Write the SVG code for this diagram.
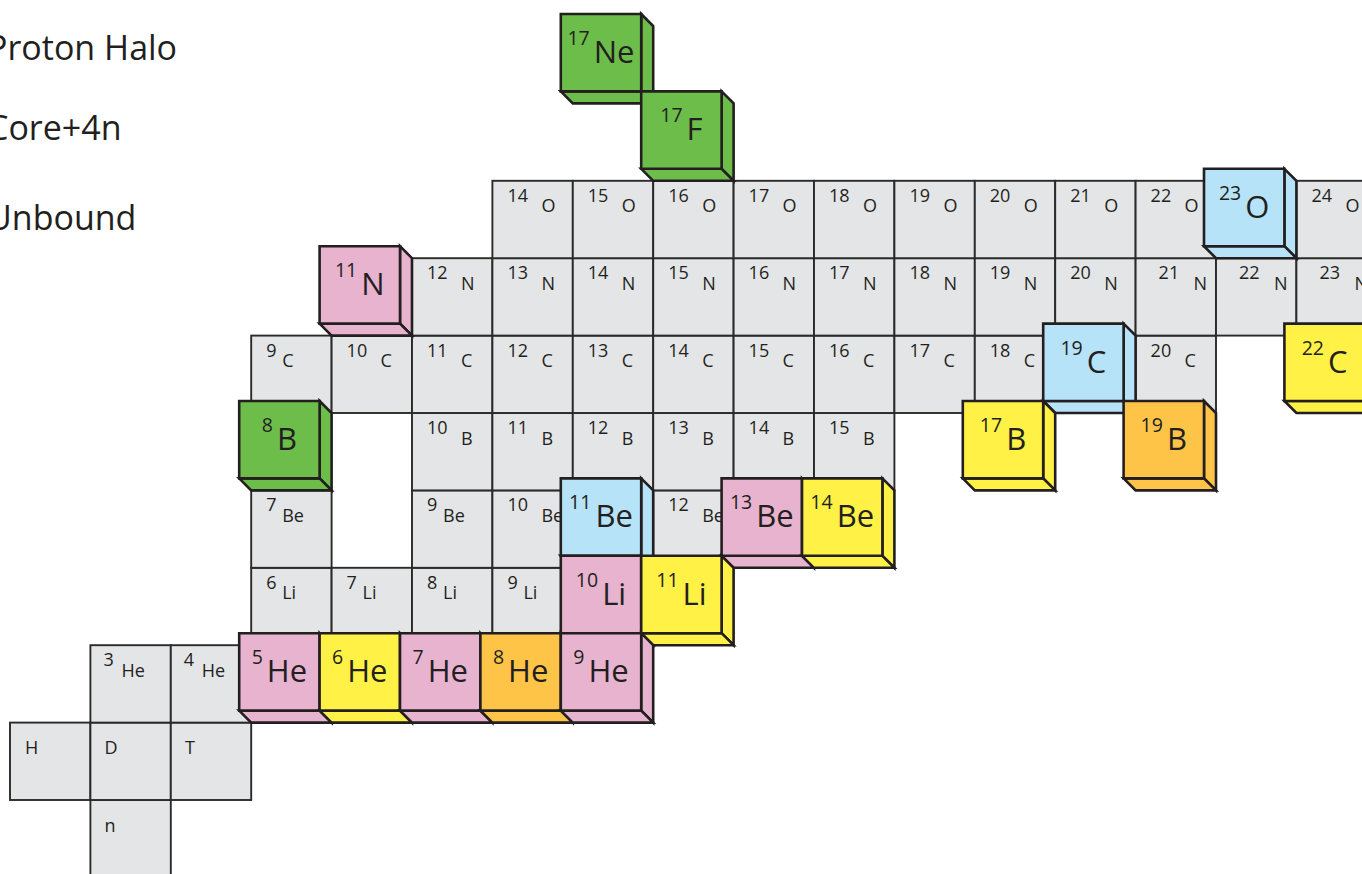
<svg xmlns="http://www.w3.org/2000/svg" xmlns:xlink="http://www.w3.org/1999/xlink" width="1362" height="874" viewBox="0 0 1362 874">
<style>
.cell{fill:#e4e5e6;stroke:#2b2a29;stroke-width:1.9}
.t{font-family:'Open Sans','Noto Sans',sans-serif;font-size:18px;fill:#231f20}
.lg{font-family:'Open Sans','Noto Sans',sans-serif;font-size:34px;fill:#231f20}
.bx{stroke:#231f20;stroke-width:2.6;stroke-linejoin:miter}
.bl{font-family:'Open Sans','Noto Sans',sans-serif;fill:#231f20;text-anchor:middle}
.ms{font-size:19.5px}
.sy{font-size:31px}
.pink{fill:#e7b3cf}
.yellow{fill:#fff145}
.orange{fill:#fec447}
.blue{fill:#b6e3f8}
.green{fill:#6cbd4a}
</style>
<defs>
<rect id="c" class="cell" width="80.4" height="77.4"/>
<g id="box">
<path d="M80.4 0 L92.4 12 V89.4 L80.4 77.4 Z"/>
<path d="M0 77.4 H80.4 L92.4 89.4 H12 Z"/>
<path d="M0 0 H80.4 V77.4 H0 Z"/>
</g>
</defs>
<rect width="1362" height="874" fill="#ffffff"/>
<g id="legend">
<text class="lg" x="-13" y="60">Proton Halo</text>
<text class="lg" x="-13" y="140">Core+4n</text>
<text class="lg" x="-13" y="230">Unbound</text>
</g>
<g id="grid">
<g id="n"><use href="#c" x="90.4" y="800"/><text class="t" x="104.4" y="831.5">n</text></g>
<g id="H"><use href="#c" x="10" y="722.6"/><text class="t" x="25" y="753.5">H</text></g>
<g id="D"><use href="#c" x="90.4" y="722.6"/><text class="t" x="104.4" y="753.5">D</text></g>
<g id="T"><use href="#c" x="170.8" y="722.6"/><text class="t" x="185" y="753.5">T</text></g>
<g id="He3"><use href="#c" x="90.4" y="645.2"/><text class="t" x="103.4" y="666.2">3</text><text class="t" x="121.4" y="676.7">He</text></g>
<g id="He4"><use href="#c" x="170.8" y="645.2"/><text class="t" x="183.8" y="666.2">4</text><text class="t" x="201.8" y="676.7">He</text></g>
<g id="Li6"><use href="#c" x="251.2" y="567.8"/><text class="t" x="266.2" y="588.8">6</text><text class="t" x="282.2" y="599.3">Li</text></g>
<g id="Li7"><use href="#c" x="331.6" y="567.8"/><text class="t" x="346.6" y="588.8">7</text><text class="t" x="362.6" y="599.3">Li</text></g>
<g id="Li8"><use href="#c" x="412" y="567.8"/><text class="t" x="427" y="588.8">8</text><text class="t" x="443" y="599.3">Li</text></g>
<g id="Li9"><use href="#c" x="492.4" y="567.8"/><text class="t" x="507.4" y="588.8">9</text><text class="t" x="523.4" y="599.3">Li</text></g>
<g id="Be7"><use href="#c" x="251.2" y="490.4"/><text class="t" x="266.2" y="511.4">7</text><text class="t" x="282.2" y="521.9">Be</text></g>
<g id="Be9"><use href="#c" x="412" y="490.4"/><text class="t" x="427" y="511.4">9</text><text class="t" x="443" y="521.9">Be</text></g>
<g id="Be10"><use href="#c" x="492.4" y="490.4"/><text class="t" x="507.4" y="511.4">10</text><text class="t" x="541.4" y="521.9">Be</text></g>
<g id="Be12"><use href="#c" x="653.2" y="490.4"/><text class="t" x="668.2" y="511.4">12</text><text class="t" x="702.2" y="521.9">Be</text></g>
<g id="B10"><use href="#c" x="412" y="413"/><text class="t" x="427" y="434">10</text><text class="t" x="461" y="444.5">B</text></g>
<g id="B11"><use href="#c" x="492.4" y="413"/><text class="t" x="507.4" y="434">11</text><text class="t" x="541.4" y="444.5">B</text></g>
<g id="B12"><use href="#c" x="572.8" y="413"/><text class="t" x="587.8" y="434">12</text><text class="t" x="621.8" y="444.5">B</text></g>
<g id="B13"><use href="#c" x="653.2" y="413"/><text class="t" x="668.2" y="434">13</text><text class="t" x="702.2" y="444.5">B</text></g>
<g id="B14"><use href="#c" x="733.6" y="413"/><text class="t" x="748.6" y="434">14</text><text class="t" x="782.6" y="444.5">B</text></g>
<g id="B15"><use href="#c" x="814" y="413"/><text class="t" x="829" y="434">15</text><text class="t" x="863" y="444.5">B</text></g>
<g id="C9"><use href="#c" x="251.2" y="335.6"/><text class="t" x="266.2" y="356.6">9</text><text class="t" x="282.2" y="367.1">C</text></g>
<g id="C10"><use href="#c" x="331.6" y="335.6"/><text class="t" x="346.6" y="356.6">10</text><text class="t" x="380.6" y="367.1">C</text></g>
<g id="C11"><use href="#c" x="412" y="335.6"/><text class="t" x="427" y="356.6">11</text><text class="t" x="461" y="367.1">C</text></g>
<g id="C12"><use href="#c" x="492.4" y="335.6"/><text class="t" x="507.4" y="356.6">12</text><text class="t" x="541.4" y="367.1">C</text></g>
<g id="C13"><use href="#c" x="572.8" y="335.6"/><text class="t" x="587.8" y="356.6">13</text><text class="t" x="621.8" y="367.1">C</text></g>
<g id="C14"><use href="#c" x="653.2" y="335.6"/><text class="t" x="668.2" y="356.6">14</text><text class="t" x="702.2" y="367.1">C</text></g>
<g id="C15"><use href="#c" x="733.6" y="335.6"/><text class="t" x="748.6" y="356.6">15</text><text class="t" x="782.6" y="367.1">C</text></g>
<g id="C16"><use href="#c" x="814" y="335.6"/><text class="t" x="829" y="356.6">16</text><text class="t" x="863" y="367.1">C</text></g>
<g id="C17"><use href="#c" x="894.4" y="335.6"/><text class="t" x="909.4" y="356.6">17</text><text class="t" x="943.4" y="367.1">C</text></g>
<g id="C18"><use href="#c" x="974.8" y="335.6"/><text class="t" x="989.8" y="356.6">18</text><text class="t" x="1023.8" y="367.1">C</text></g>
<g id="C20"><use href="#c" x="1135.6" y="335.6"/><text class="t" x="1150.6" y="356.6">20</text><text class="t" x="1184.6" y="367.1">C</text></g>
<g id="N12"><use href="#c" x="412" y="258.2"/><text class="t" x="427" y="279.2">12</text><text class="t" x="461" y="289.7">N</text></g>
<g id="N13"><use href="#c" x="492.4" y="258.2"/><text class="t" x="507.4" y="279.2">13</text><text class="t" x="541.4" y="289.7">N</text></g>
<g id="N14"><use href="#c" x="572.8" y="258.2"/><text class="t" x="587.8" y="279.2">14</text><text class="t" x="621.8" y="289.7">N</text></g>
<g id="N15"><use href="#c" x="653.2" y="258.2"/><text class="t" x="668.2" y="279.2">15</text><text class="t" x="702.2" y="289.7">N</text></g>
<g id="N16"><use href="#c" x="733.6" y="258.2"/><text class="t" x="748.6" y="279.2">16</text><text class="t" x="782.6" y="289.7">N</text></g>
<g id="N17"><use href="#c" x="814" y="258.2"/><text class="t" x="829" y="279.2">17</text><text class="t" x="863" y="289.7">N</text></g>
<g id="N18"><use href="#c" x="894.4" y="258.2"/><text class="t" x="909.4" y="279.2">18</text><text class="t" x="943.4" y="289.7">N</text></g>
<g id="N19"><use href="#c" x="974.8" y="258.2"/><text class="t" x="989.8" y="279.2">19</text><text class="t" x="1023.8" y="289.7">N</text></g>
<g id="N20"><use href="#c" x="1055.2" y="258.2"/><text class="t" x="1070.2" y="279.2">20</text><text class="t" x="1104.2" y="289.7">N</text></g>
<g id="N21"><use href="#c" x="1135.6" y="258.2"/><text class="t" x="1158.6" y="279.2">21</text><text class="t" x="1193.6" y="289.7">N</text></g>
<g id="N22"><use href="#c" x="1216" y="258.2"/><text class="t" x="1239" y="279.2">22</text><text class="t" x="1274" y="289.7">N</text></g>
<g id="N23"><use href="#c" x="1296.4" y="258.2"/><text class="t" x="1319.4" y="279.2">23</text><text class="t" x="1354.4" y="289.7">N</text></g>
<g id="O14"><use href="#c" x="492.4" y="180.8"/><text class="t" x="507.4" y="201.8">14</text><text class="t" x="541.4" y="212.3">O</text></g>
<g id="O15"><use href="#c" x="572.8" y="180.8"/><text class="t" x="587.8" y="201.8">15</text><text class="t" x="621.8" y="212.3">O</text></g>
<g id="O16"><use href="#c" x="653.2" y="180.8"/><text class="t" x="668.2" y="201.8">16</text><text class="t" x="702.2" y="212.3">O</text></g>
<g id="O17"><use href="#c" x="733.6" y="180.8"/><text class="t" x="748.6" y="201.8">17</text><text class="t" x="782.6" y="212.3">O</text></g>
<g id="O18"><use href="#c" x="814" y="180.8"/><text class="t" x="829" y="201.8">18</text><text class="t" x="863" y="212.3">O</text></g>
<g id="O19"><use href="#c" x="894.4" y="180.8"/><text class="t" x="909.4" y="201.8">19</text><text class="t" x="943.4" y="212.3">O</text></g>
<g id="O20"><use href="#c" x="974.8" y="180.8"/><text class="t" x="989.8" y="201.8">20</text><text class="t" x="1023.8" y="212.3">O</text></g>
<g id="O21"><use href="#c" x="1055.2" y="180.8"/><text class="t" x="1070.2" y="201.8">21</text><text class="t" x="1104.2" y="212.3">O</text></g>
<g id="O22"><use href="#c" x="1135.6" y="180.8"/><text class="t" x="1150.6" y="201.8">22</text><text class="t" x="1184.6" y="212.3">O</text></g>
<g id="O24"><use href="#c" x="1296.4" y="180.8"/><text class="t" x="1311.4" y="201.8">24</text><text class="t" x="1345.4" y="212.3">O</text></g>
</g>
<g id="highlighted">
<g id="Ne17" transform="translate(560.8,14)"><use href="#box" class="bx green"/><text class="bl" x="40.2" y="49"><tspan class="ms" dy="-18">17</tspan><tspan class="sy" dy="18" dx="4">Ne</tspan></text></g>
<g id="F17" transform="translate(641.2,91.4)"><use href="#box" class="bx green"/><text class="bl" x="40.2" y="49"><tspan class="ms" dy="-18">17</tspan><tspan class="sy" dy="18" dx="4">F</tspan></text></g>
<g id="O23" transform="translate(1204,168.8)"><use href="#box" class="bx blue"/><text class="bl" x="40.2" y="49"><tspan class="ms" dy="-18">23</tspan><tspan class="sy" dy="18" dx="4">O</tspan></text></g>
<g id="N11" transform="translate(319.6,246.2)"><use href="#box" class="bx pink"/><text class="bl" x="40.2" y="49"><tspan class="ms" dy="-18">11</tspan><tspan class="sy" dy="18" dx="4">N</tspan></text></g>
<g id="C19" transform="translate(1043.2,323.6)"><use href="#box" class="bx blue"/><text class="bl" x="40.2" y="49"><tspan class="ms" dy="-18">19</tspan><tspan class="sy" dy="18" dx="4">C</tspan></text></g>
<g id="C22" transform="translate(1284.4,323.6)"><use href="#box" class="bx yellow"/><text class="bl" x="40.2" y="49"><tspan class="ms" dy="-18">22</tspan><tspan class="sy" dy="18" dx="4">C</tspan></text></g>
<g id="B8" transform="translate(239.2,401)"><use href="#box" class="bx green"/><text class="bl" x="40.2" y="49"><tspan class="ms" dy="-18">8</tspan><tspan class="sy" dy="18" dx="4">B</tspan></text></g>
<g id="B17" transform="translate(962.8,401)"><use href="#box" class="bx yellow"/><text class="bl" x="40.2" y="49"><tspan class="ms" dy="-18">17</tspan><tspan class="sy" dy="18" dx="4">B</tspan></text></g>
<g id="B19" transform="translate(1123.6,401)"><use href="#box" class="bx orange"/><text class="bl" x="40.2" y="49"><tspan class="ms" dy="-18">19</tspan><tspan class="sy" dy="18" dx="4">B</tspan></text></g>
<g id="Be11" transform="translate(560.8,478.4)"><use href="#box" class="bx blue"/><text class="bl" x="40.2" y="49"><tspan class="ms" dy="-18">11</tspan><tspan class="sy" dy="18" dx="4">Be</tspan></text></g>
<g id="Be13" transform="translate(721.6,478.4)"><use href="#box" class="bx pink"/><text class="bl" x="40.2" y="49"><tspan class="ms" dy="-18">13</tspan><tspan class="sy" dy="18" dx="4">Be</tspan></text></g>
<g id="Be14" transform="translate(802,478.4)"><use href="#box" class="bx yellow"/><text class="bl" x="40.2" y="49"><tspan class="ms" dy="-18">14</tspan><tspan class="sy" dy="18" dx="4">Be</tspan></text></g>
<g id="Li10" transform="translate(560.8,555.8)"><use href="#box" class="bx pink"/><text class="bl" x="40.2" y="49"><tspan class="ms" dy="-18">10</tspan><tspan class="sy" dy="18" dx="4">Li</tspan></text></g>
<g id="Li11" transform="translate(641.2,555.8)"><use href="#box" class="bx yellow"/><text class="bl" x="40.2" y="49"><tspan class="ms" dy="-18">11</tspan><tspan class="sy" dy="18" dx="4">Li</tspan></text></g>
<g id="He5" transform="translate(239.2,633.2)"><use href="#box" class="bx pink"/><text class="bl" x="40.2" y="49"><tspan class="ms" dy="-18">5</tspan><tspan class="sy" dy="18" dx="4">He</tspan></text></g>
<g id="He6" transform="translate(319.6,633.2)"><use href="#box" class="bx yellow"/><text class="bl" x="40.2" y="49"><tspan class="ms" dy="-18">6</tspan><tspan class="sy" dy="18" dx="4">He</tspan></text></g>
<g id="He7" transform="translate(400,633.2)"><use href="#box" class="bx pink"/><text class="bl" x="40.2" y="49"><tspan class="ms" dy="-18">7</tspan><tspan class="sy" dy="18" dx="4">He</tspan></text></g>
<g id="He8" transform="translate(480.4,633.2)"><use href="#box" class="bx orange"/><text class="bl" x="40.2" y="49"><tspan class="ms" dy="-18">8</tspan><tspan class="sy" dy="18" dx="4">He</tspan></text></g>
<g id="He9" transform="translate(560.8,633.2)"><use href="#box" class="bx pink"/><text class="bl" x="40.2" y="49"><tspan class="ms" dy="-18">9</tspan><tspan class="sy" dy="18" dx="4">He</tspan></text></g>
</g>
<g id="connectors"/>
</svg>
